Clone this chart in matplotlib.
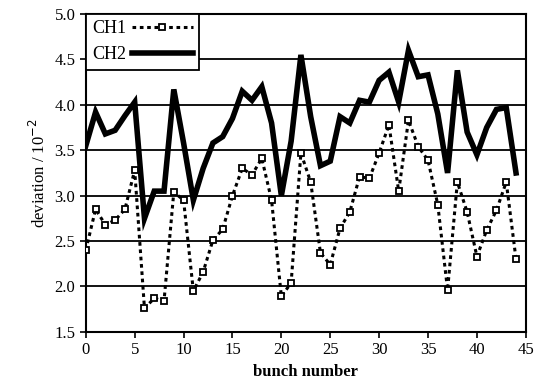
import numpy as np
import matplotlib
matplotlib.use("Agg")
import matplotlib.pyplot as plt

plt.rcParams['font.family'] = ['Liberation Serif', 'DejaVu Serif']

# bunch numbers 0..44
bunch = list(range(45))

ch1 = [2.40, 2.85, 2.68, 2.73, 2.85, 3.28, 1.76, 1.87, 1.84, 3.04,
       2.95, 1.95, 2.16, 2.51, 2.63, 3.00, 3.30, 3.23, 3.41, 2.95,
       1.89, 2.04, 3.47, 3.15, 2.37, 2.24, 2.64, 2.82, 3.21, 3.19,
       3.47, 3.78, 3.05, 3.83, 3.54, 3.39, 2.90, 1.96, 3.15, 2.82,
       2.33, 2.62, 2.84, 3.15, 2.30]

ch2 = [3.55, 3.92, 3.68, 3.72, 3.88, 4.03, 2.75, 3.05, 3.05, 4.17,
       3.58, 2.95, 3.30, 3.58, 3.65, 3.85, 4.15, 4.05, 4.20, 3.80,
       3.00, 3.60, 4.55, 3.87, 3.33, 3.38, 3.87, 3.80, 4.05, 4.03,
       4.27, 4.36, 4.03, 4.60, 4.31, 4.33, 3.90, 3.25, 4.38, 3.70,
       3.45, 3.75, 3.95, 3.97, 3.25]

xticks = [0, 5, 10, 15, 20, 25, 30, 35, 40, 45]
yticks = [1.5, 2.0, 2.5, 3.0, 3.5, 4.0, 4.5, 5.0]

fig = plt.figure(figsize=(5.5, 3.9), dpi=100)
ax = fig.add_axes([0.156, 0.149, 0.8, 0.815])

# horizontal grid
for y in yticks[1:-1]:
    ax.axhline(y, color='black', lw=1.3, zorder=1)

ax.plot(bunch, ch1, color='black', lw=2.2, ls=(0, (1.2, 1.2)),
        marker='s', ms=4.5, mfc='white', mec='black', mew=1.3,
        label='CH1', zorder=3)
ax.plot(bunch, ch2, color='black', lw=4, solid_joinstyle='miter',
        label='CH2', zorder=4)

ax.set_xlim(0, 45)
ax.set_ylim(1.5, 5.0)
ax.set_xticks(xticks)
ax.set_yticks(yticks)
ax.set_yticklabels([f"{v:.1f}" for v in yticks])
ax.tick_params(direction='out', length=4, width=1.2, labelsize=12, colors='black')
for s in ax.spines.values():
    s.set_linewidth(1.5)

ax.set_xlabel('bunch number', fontsize=12, fontweight='bold')
ax.set_ylabel('deviation / 10$^{-2}$', fontsize=12)

leg = ax.legend(loc='upper left', fontsize=13, frameon=True, fancybox=False,
                edgecolor='black', framealpha=1, borderaxespad=0,
                handlelength=3.4, borderpad=0.35, labelspacing=0.5,
                handletextpad=0.3, markerfirst=False)
leg.get_frame().set_linewidth(1.3)

fig.savefig('out.png', dpi=100)
